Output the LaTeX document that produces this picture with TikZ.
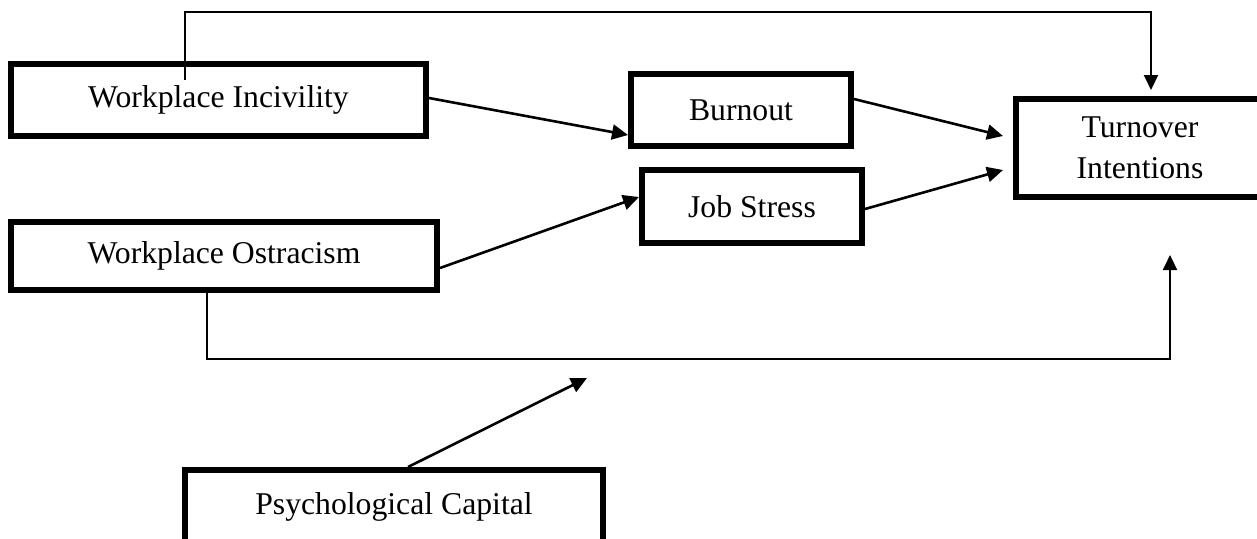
\documentclass[tikz,border=0pt]{standalone}
\usepackage{fontspec}
\setmainfont{Liberation Serif}
\usetikzlibrary{arrows.meta}
\begin{document}
\begin{tikzpicture}[x=1pt,y=-1pt,
  box/.style={draw, line width=6pt, rectangle, inner sep=0pt, outer sep=3pt, align=center,
    font=\fontsize{31.7}{41}\selectfont},
  link/.style={line width=2.6pt, -{Triangle[length=16pt,width=15pt]}},
  thinlink/.style={line width=2pt, -{Triangle[length=15pt,width=14pt]}}]
\useasboundingbox (0,0) rectangle (1257,538);
\clip (0,0) rectangle (1257,538);
\node[box, minimum width=415pt, minimum height=72pt] (inc) at (218.5,100) {Workplace Incivility};
\node[box, minimum width=426pt, minimum height=68pt] (ost) at (224,256) {Workplace Ostracism};
\node[box, minimum width=220pt, minimum height=72pt] (burn) at (741,110) {Burnout};
\node[box, minimum width=220pt, minimum height=73pt] (js) at (752,206.5) {Job Stress};
\node[box, minimum width=248pt, minimum height=98pt] (turn) at (1140,148) {Turnover\\Intentions};
\node[box, minimum width=418pt, minimum height=74pt] (psy) at (394,507) {Psychological Capital};
\coordinate (incTop) at (185,80);
\coordinate (modPt) at (587,378);
% incivility direct path
\draw[thinlink] (incTop) -- (185,12) -| ([xshift=11pt,yshift=6pt]turn.north);
% mediations
\draw[link] ([yshift=2pt]inc.east) -- ([yshift=-25pt]burn.west);
\draw[link] ([yshift=-12pt]ost.east) -- ([yshift=9.5pt]js.west);
\draw[link] ([yshift=11pt]burn.east) -- ([xshift=-10pt,yshift=12pt]turn.west);
\draw[link] ([yshift=-2.5pt]js.east) -- ([xshift=-10pt,yshift=-22pt]turn.west);
% ostracism direct path
\draw[thinlink] ([xshift=-17pt]ost.south) |- (1170,359) -- ([xshift=30pt,yshift=-55pt]turn.south);
% moderation
\draw[link] ([xshift=14pt]psy.north) -- (modPt);
\end{tikzpicture}
\end{document}
